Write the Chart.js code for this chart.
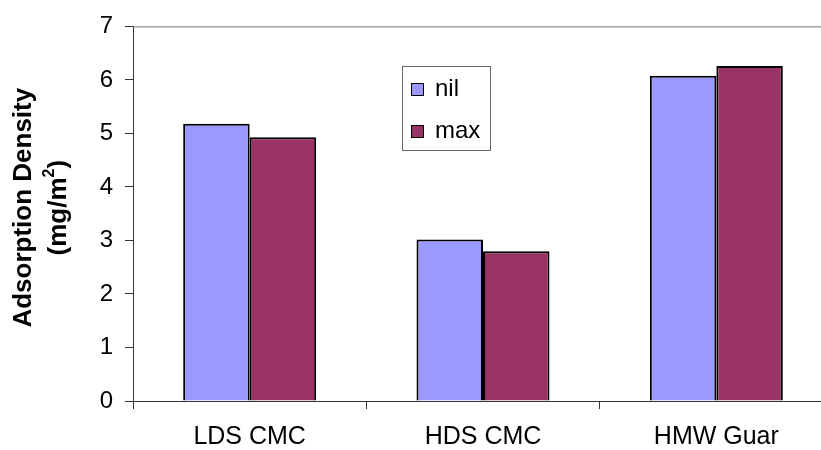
<!DOCTYPE html>
<html>
<head>
<meta charset="utf-8">
<script src="https://cdn.jsdelivr.net/npm/chart.js@4/dist/chart.umd.min.js"></script>
<style>
  html, body { margin: 0; padding: 0; background: #fff; overflow: hidden; }
  #wrap { width: 840px; height: 450px; }
</style>
</head>
<body>
<div id="wrap"><canvas id="chart" width="840" height="450"></canvas></div>
<script>
const categories = ["LDS CMC", "HDS CMC", "HMW Guar"];
const seriesNames = ["nil", "max"];
const nilValues = [5.18, 3.02, 6.08];
const maxValues = [4.93, 2.80, 6.26];
const yMin = 0;
const yMax = 7;
const yStep = 1;

const FONT = '"Liberation Sans", Arial, sans-serif';
const AXIS_COLOR = "#333";

// boxed legend inside the plot, the top frame line and the y-axis title
// (drawn by hand so the "2" can be a real superscript)
const plotExtras = {
  id: "plotExtras",
  afterDraw(chart) {
    const { ctx, chartArea } = chart;
    ctx.save();

    ctx.strokeStyle = "#777";
    ctx.lineWidth = 1;
    ctx.beginPath();
    ctx.moveTo(chartArea.left, chartArea.top + 0.5);
    ctx.lineTo(chartArea.right, chartArea.top + 0.5);
    ctx.stroke();

    ctx.fillStyle = "#fff";
    ctx.fillRect(402, 66, 88, 84);
    ctx.strokeStyle = "#666";
    ctx.strokeRect(402.5, 66.5, 88, 84);

    ctx.font = "24px " + FONT;
    ctx.textBaseline = "alphabetic";
    chart.data.datasets.forEach((ds, i) => {
      const y = 83 + i * 42;
      ctx.fillStyle = ds.backgroundColor;
      ctx.fillRect(411, y, 13, 13);
      ctx.strokeStyle = "#000";
      ctx.strokeRect(411.5, y + 0.5, 12, 12);
      ctx.fillStyle = "#000";
      ctx.fillText(ds.label, 435, y + 13);
    });

    // y-axis title, rotated
    const cy = (chartArea.top + chartArea.bottom) / 2 - 6;
    ctx.translate(0, cy);
    ctx.rotate(-Math.PI / 2);
    ctx.fillStyle = "#000";
    ctx.textBaseline = "middle";
    ctx.textAlign = "center";
    ctx.font = "bold 26px " + FONT;
    ctx.fillText("Adsorption Density", 0, 24);

    const main = "(mg/m", sup = "2", close = ")";
    const supFont = "bold 16px " + FONT;
    const wMain = ctx.measureText(main).width;
    const wClose = ctx.measureText(close).width;
    ctx.font = supFont;
    const wSup = ctx.measureText(sup).width;
    let x = -(wMain + wSup + wClose) / 2;
    ctx.textAlign = "left";
    ctx.font = "bold 26px " + FONT;
    ctx.fillText(main, x, 59);
    x += wMain;
    ctx.font = supFont;
    ctx.fillText(sup, x, 50);
    x += wSup;
    ctx.font = "bold 26px " + FONT;
    ctx.fillText(close, x, 59);

    ctx.restore();
  }
};

new Chart(document.getElementById("chart"), {
  type: "bar",
  data: {
    labels: categories,
    datasets: [
      {
        label: seriesNames[0],
        data: nilValues,
        backgroundColor: "#9999FF",
        borderColor: "#000",
        borderWidth: 2,
      },
      {
        label: seriesNames[1],
        data: maxValues,
        backgroundColor: "#993366",
        borderColor: "#000",
        borderWidth: 2,
      },
    ],
  },
  options: {
    responsive: false,
    animation: false,
    layout: { padding: { top: 24, right: 7, left: 0, bottom: 0 } },
    datasets: {
      bar: { categoryPercentage: 0.57, barPercentage: 1 },
    },
    plugins: {
      legend: { display: false },
      tooltip: { enabled: false },
    },
    scales: {
      x: {
        grid: {
          display: true,
          drawOnChartArea: false,
          drawTicks: true,
          tickLength: 8,
          color: AXIS_COLOR,
          offset: true,
        },
        border: { color: AXIS_COLOR, width: 1 },
        ticks: {
          color: "#000",
          font: { family: FONT, size: 25 },
          padding: 13,
          maxRotation: 0,
        },
        afterFit(scale) {
          scale.height = 49;
        },
      },
      y: {
        min: yMin,
        max: yMax,
        grid: {
          display: true,
          drawOnChartArea: false,
          drawTicks: true,
          tickLength: 8,
          color: AXIS_COLOR,
        },
        border: { color: AXIS_COLOR, width: 1 },
        ticks: {
          stepSize: yStep,
          color: "#000",
          font: { family: FONT, size: 24 },
          padding: 12,
        },
        afterFit(scale) {
          scale.width = 133;
        },
      },
    },
  },
  plugins: [plotExtras],
});
</script>
</body>
</html>
